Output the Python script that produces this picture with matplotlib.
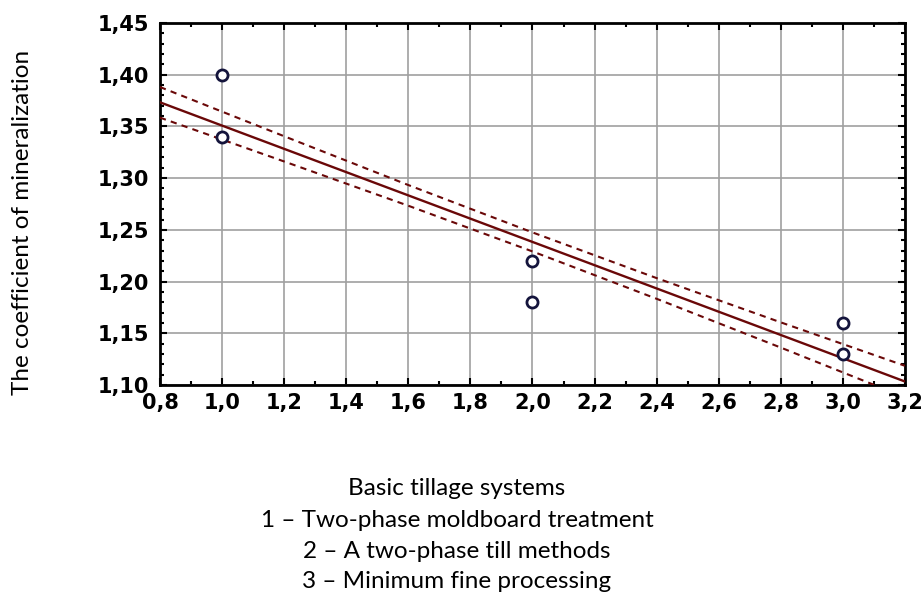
import numpy as np
import matplotlib.pyplot as plt
from matplotlib.ticker import MultipleLocator, FuncFormatter

# observed points (tillage system, coefficient of mineralization)
x_pts = [1, 1, 2, 2, 3, 3]
y_pts = [1.40, 1.34, 1.22, 1.18, 1.16, 1.13]

# confidence band half-width
band_x = [0.8, 1.2, 1.6, 2.0, 2.4, 2.8, 3.2]
band_hw = [0.0148, 0.0122, 0.0100, 0.0092, 0.0100, 0.0122, 0.0152]

ylabel = 'The coefficient of mineralization'
caption = ['Basic tillage systems',
           '1 \u2013 Two-phase moldboard treatment',
           '2 \u2013 A two-phase till methods',
           '3 \u2013 Minimum fine processing']

slope, icpt = np.polyfit(x_pts, y_pts, 1)
bx = np.array(band_x)
fit = icpt + slope * bx

fig = plt.figure(figsize=(9.23, 5.92), dpi=100)
ax = fig.add_axes([0.1733, 0.3497, 0.8072, 0.6114])

line_c = '#6a0808'
ax.plot(bx, fit, color=line_c, lw=1.7, zorder=3)
ax.plot(bx, fit + np.array(band_hw), color=line_c, lw=1.5, ls=(0, (3, 2.5)), zorder=3)
ax.plot(bx, fit - np.array(band_hw), color=line_c, lw=1.5, ls=(0, (3, 2.5)), zorder=3)
ax.plot(x_pts, y_pts, 'o', ms=8, mfc='white', mec='#14143c', mew=2, zorder=4)

ax.set_xlim(0.8, 3.2)
ax.set_ylim(1.10, 1.45)
ax.xaxis.set_major_locator(MultipleLocator(0.2))
ax.xaxis.set_minor_locator(MultipleLocator(0.1))
ax.yaxis.set_major_locator(MultipleLocator(0.05))
ax.yaxis.set_minor_locator(MultipleLocator(0.01))
ax.xaxis.set_major_formatter(FuncFormatter(lambda v, p: f'{v:.1f}'.replace('.', ',')))
ax.yaxis.set_major_formatter(FuncFormatter(lambda v, p: f'{v:.2f}'.replace('.', ',')))
ax.grid(True, which='major', color='#a0a0a0', lw=1.2)
ax.tick_params(which='both', direction='in', top=True, right=True, width=1.5, color='black')
ax.tick_params(which='major', length=5, labelsize=15)
ax.tick_params(axis='y', which='major', pad=8)
ax.tick_params(axis='x', which='major', pad=6)
ax.tick_params(which='minor', length=3)
for lab in ax.get_xticklabels() + ax.get_yticklabels():
    lab.set_fontweight('bold')
    lab.set_family('DejaVu Sans')
for s in ax.spines.values():
    s.set_linewidth(2)
    s.set_color('black')

fig.text(0.024, 0.625, ylabel, rotation=90, ha='center', va='center',
         fontsize=17.5, family='Lato')
ys = [0.1639, 0.1098, 0.0574, 0.0068]
for t, yy in zip(caption, ys):
    fig.text(0.495, yy, t, ha='center', va='baseline', fontsize=17.5, family='Lato')

fig.savefig('out.png', dpi=100)
